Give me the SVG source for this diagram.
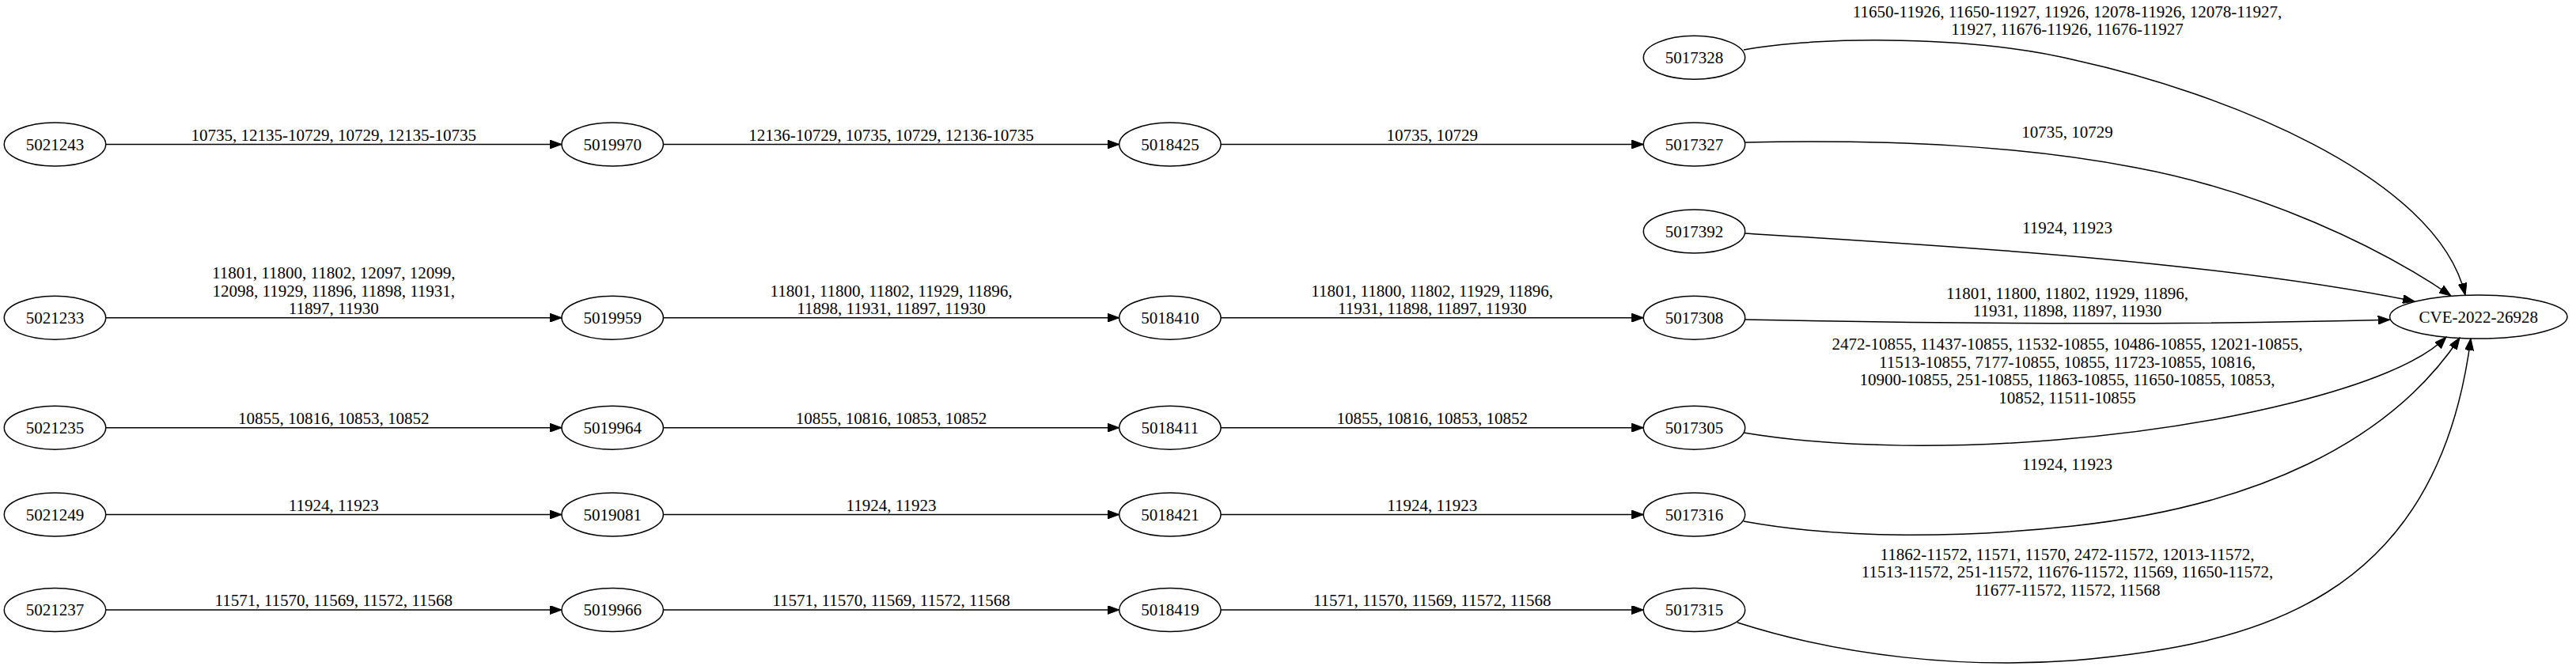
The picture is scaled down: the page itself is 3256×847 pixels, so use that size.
<svg xmlns="http://www.w3.org/2000/svg" width="3256" height="847" viewBox="0 0 3256 847">
<style>
.n ellipse{fill:none;stroke:#000;stroke-width:1.5}
text{font-family:"Liberation Serif","Times New Roman",serif;font-size:21px;text-anchor:middle;fill:#000}
.e path{fill:none;stroke:#000;stroke-width:1.5;marker-end:url(#ah)}
</style>
<defs>
<marker id="ah" markerWidth="16" markerHeight="11" refX="15" refY="5.5" orient="auto" markerUnits="userSpaceOnUse"><path d="M0,0 L15,5.5 L0,11 z" fill="#000" stroke="#000" stroke-width="1"/></marker>
</defs>
<rect width="3256" height="847" fill="#fff"/>
<g id="connectors" class="e">
<g id="e1"><path d="M133.7,182.5 L710,182.5"/><text x="421.8" y="177.5">10735, 12135-10729, 10729, 12135-10735</text></g>
<g id="e2"><path d="M838.4,182.5 L1414.7,182.5"/><text x="1126.5" y="177.5">12136-10729, 10735, 10729, 12136-10735</text></g>
<g id="e3"><path d="M1543.1,182.5 L2077.3,182.5"/><text x="1810.2" y="177.5">10735, 10729</text></g>
<g id="e4"><path d="M133.7,401.7 L710,401.7"/><text x="421.8" y="352">11801, 11800, 11802, 12097, 12099,</text><text x="421.8" y="374.5">12098, 11929, 11896, 11898, 11931,</text><text x="421.8" y="397">11897, 11930</text></g>
<g id="e5"><path d="M838.4,401.7 L1414.7,401.7"/><text x="1126.5" y="374.5">11801, 11800, 11802, 11929, 11896,</text><text x="1126.5" y="397">11898, 11931, 11897, 11930</text></g>
<g id="e6"><path d="M1543.1,401.7 L2077.3,401.7"/><text x="1810.2" y="374.5">11801, 11800, 11802, 11929, 11896,</text><text x="1810.2" y="397">11931, 11898, 11897, 11930</text></g>
<g id="e7"><path d="M133.7,540.7 L710,540.7"/><text x="421.8" y="535.5">10855, 10816, 10853, 10852</text></g>
<g id="e8"><path d="M838.4,540.7 L1414.7,540.7"/><text x="1126.5" y="535.5">10855, 10816, 10853, 10852</text></g>
<g id="e9"><path d="M1543.1,540.7 L2077.3,540.7"/><text x="1810.2" y="535.5">10855, 10816, 10853, 10852</text></g>
<g id="e10"><path d="M133.7,650.5 L710,650.5"/><text x="421.8" y="645.5">11924, 11923</text></g>
<g id="e11"><path d="M838.4,650.5 L1414.7,650.5"/><text x="1126.5" y="645.5">11924, 11923</text></g>
<g id="e12"><path d="M1543.1,650.5 L2077.3,650.5"/><text x="1810.2" y="645.5">11924, 11923</text></g>
<g id="e13"><path d="M133.7,771 L710,771"/><text x="421.8" y="766">11571, 11570, 11569, 11572, 11568</text></g>
<g id="e14"><path d="M838.4,771 L1414.7,771"/><text x="1126.5" y="766">11571, 11570, 11569, 11572, 11568</text></g>
<g id="e15"><path d="M1543.1,771 L2077.3,771"/><text x="1810.2" y="766">11571, 11570, 11569, 11572, 11568</text></g>
<g id="e16"><path d="M2204,63 C2300,45 2500,45 2627,77 C2800,115 3080,220 3116,373"/><text x="2613" y="21.7">11650-11926, 11650-11927, 11926, 12078-11926, 12078-11927,</text><text x="2613" y="44.3">11927, 11676-11926, 11676-11927</text></g>
<g id="e17"><path d="M2205,180 C2400,176 2560,185 2700,212 C2860,242 3008,312 3098,374"/><text x="2613" y="174">10735, 10729</text></g>
<g id="e18"><path d="M2205,295 C2450,310 2800,330 3052,381"/><text x="2613" y="295">11924, 11923</text></g>
<g id="e19"><path d="M2205.7,404 C2500,410 2800,410 3020.6,404.3"/><text x="2613" y="377.5">11801, 11800, 11802, 11929, 11896,</text><text x="2613" y="400">11931, 11898, 11897, 11930</text></g>
<g id="e20"><path d="M2204,547 C2330,568 2480,566 2600,556 C2800,540 3030,490 3092,426"/><text x="2613" y="442">2472-10855, 11437-10855, 11532-10855, 10486-10855, 12021-10855,</text><text x="2613" y="464.5">11513-10855, 7177-10855, 10855, 11723-10855, 10816,</text><text x="2613" y="487">10900-10855, 251-10855, 11863-10855, 11650-10855, 10853,</text><text x="2613" y="509.5">10852, 11511-10855</text></g>
<g id="e21"><path d="M2204,659 C2330,682 2480,680 2620,665 C2850,640 3020,560 3109,427"/><text x="2613" y="593.5">11924, 11923</text></g>
<g id="e22"><path d="M2196,787 C2330,830 2480,845 2620,835 C2850,815 3080,760 3123,428"/><text x="2613" y="707.5">11862-11572, 11571, 11570, 2472-11572, 12013-11572,</text><text x="2613" y="730">11513-11572, 251-11572, 11676-11572, 11569, 11650-11572,</text><text x="2613" y="752.5">11677-11572, 11572, 11568</text></g>
</g>
<g id="n5021243" class="n"><ellipse cx="69.5" cy="182.5" rx="64.2" ry="27.5"/><text x="69.5" y="189.5">5021243</text></g>
<g id="n5019970" class="n"><ellipse cx="774.2" cy="182.5" rx="64.2" ry="27.5"/><text x="774.2" y="189.5">5019970</text></g>
<g id="n5018425" class="n"><ellipse cx="1478.9" cy="182.5" rx="64.2" ry="27.5"/><text x="1478.9" y="189.5">5018425</text></g>
<g id="n5017327" class="n"><ellipse cx="2141.5" cy="182.5" rx="64.2" ry="27.5"/><text x="2141.5" y="189.5">5017327</text></g>
<g id="n5017328" class="n"><ellipse cx="2141.5" cy="72.8" rx="64.2" ry="27.5"/><text x="2141.5" y="79.8">5017328</text></g>
<g id="n5017392" class="n"><ellipse cx="2141.5" cy="292.5" rx="64.2" ry="27.5"/><text x="2141.5" y="299.5">5017392</text></g>
<g id="n5021233" class="n"><ellipse cx="69.5" cy="401.7" rx="64.2" ry="27.5"/><text x="69.5" y="408.7">5021233</text></g>
<g id="n5019959" class="n"><ellipse cx="774.2" cy="401.7" rx="64.2" ry="27.5"/><text x="774.2" y="408.7">5019959</text></g>
<g id="n5018410" class="n"><ellipse cx="1478.9" cy="401.7" rx="64.2" ry="27.5"/><text x="1478.9" y="408.7">5018410</text></g>
<g id="n5017308" class="n"><ellipse cx="2141.5" cy="401.7" rx="64.2" ry="27.5"/><text x="2141.5" y="408.7">5017308</text></g>
<g id="nCVE" class="n"><ellipse cx="3132.8" cy="400.5" rx="112.2" ry="27.5"/><text x="3132.8" y="407.5">CVE-2022-26928</text></g>
<g id="n5021235" class="n"><ellipse cx="69.5" cy="540.7" rx="64.2" ry="27.5"/><text x="69.5" y="547.7">5021235</text></g>
<g id="n5019964" class="n"><ellipse cx="774.2" cy="540.7" rx="64.2" ry="27.5"/><text x="774.2" y="547.7">5019964</text></g>
<g id="n5018411" class="n"><ellipse cx="1478.9" cy="540.7" rx="64.2" ry="27.5"/><text x="1478.9" y="547.7">5018411</text></g>
<g id="n5017305" class="n"><ellipse cx="2141.5" cy="540.7" rx="64.2" ry="27.5"/><text x="2141.5" y="547.7">5017305</text></g>
<g id="n5021249" class="n"><ellipse cx="69.5" cy="650.5" rx="64.2" ry="27.5"/><text x="69.5" y="657.5">5021249</text></g>
<g id="n5019081" class="n"><ellipse cx="774.2" cy="650.5" rx="64.2" ry="27.5"/><text x="774.2" y="657.5">5019081</text></g>
<g id="n5018421" class="n"><ellipse cx="1478.9" cy="650.5" rx="64.2" ry="27.5"/><text x="1478.9" y="657.5">5018421</text></g>
<g id="n5017316" class="n"><ellipse cx="2141.5" cy="650.5" rx="64.2" ry="27.5"/><text x="2141.5" y="657.5">5017316</text></g>
<g id="n5021237" class="n"><ellipse cx="69.5" cy="771" rx="64.2" ry="27.5"/><text x="69.5" y="778">5021237</text></g>
<g id="n5019966" class="n"><ellipse cx="774.2" cy="771" rx="64.2" ry="27.5"/><text x="774.2" y="778">5019966</text></g>
<g id="n5018419" class="n"><ellipse cx="1478.9" cy="771" rx="64.2" ry="27.5"/><text x="1478.9" y="778">5018419</text></g>
<g id="n5017315" class="n"><ellipse cx="2141.5" cy="771" rx="64.2" ry="27.5"/><text x="2141.5" y="778">5017315</text></g>
</svg>
